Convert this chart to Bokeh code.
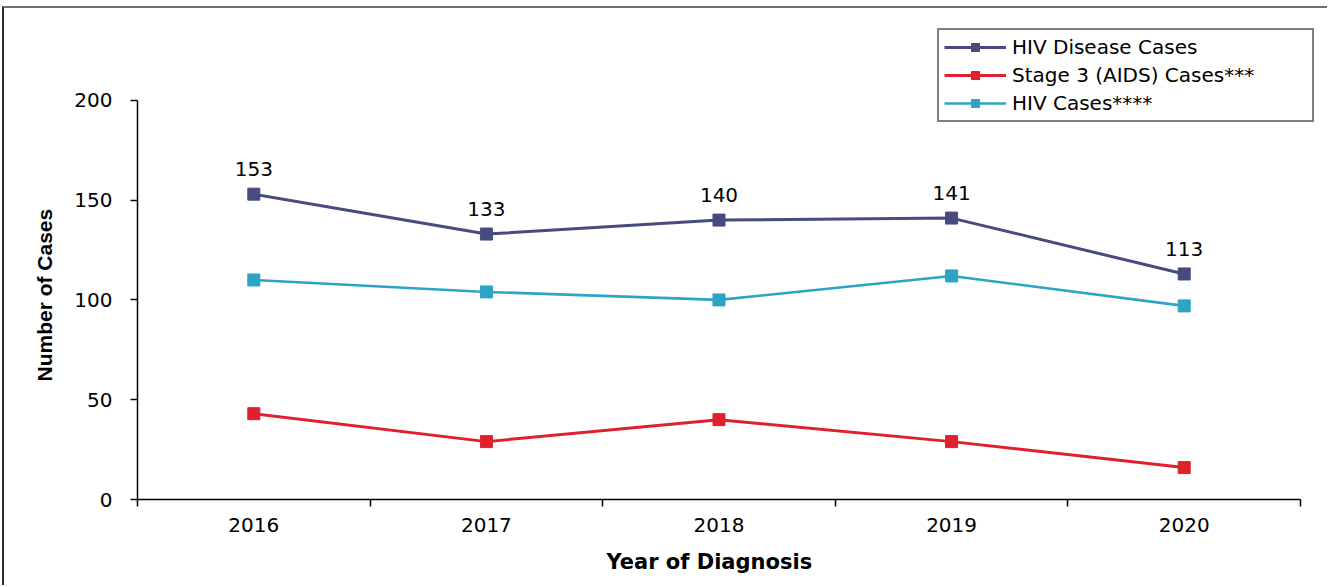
from bokeh.plotting import figure
from bokeh.models import Range1d, FixedTicker, Legend, LegendItem, Title
from bokeh.core.properties import value
from bokeh.embed import file_html
from bokeh.resources import INLINE

years = ["2016", "2017", "2018", "2019", "2020"]
hiv_disease = [153, 133, 140, 141, 113]
stage3 = [43, 29, 40, 29, 16]
hiv_cases = [110, 104, 100, 112, 97]
y_ticks = [0, 50, 100, 150, 200]

series_names = ["HIV Disease Cases", "Stage 3 (AIDS) Cases***", "HIV Cases****"]
series_colors = ["#474B80", "#E0202C", "#2CA4C3"]
x_title = "Year of Diagnosis"
y_title = "Number of Cases"

xpos = [i + 0.5 for i in range(len(years))]

p = figure(width=1325, height=579, output_backend="svg", toolbar_location=None,
           x_range=Range1d(0, 5.086), y_range=Range1d(0, 240),
           min_border_left=133, min_border_right=9, min_border_top=12, min_border_bottom=88)
p.styles = {"margin-top": "6px", "margin-left": "2px",
            "border-top": "2px solid #707070", "border-left": "2px solid #303030"}
p.outline_line_color = None
p.xgrid.visible = False
p.ygrid.visible = False
p.background_fill_color = "white"
p.border_fill_color = "white"

# x axis: labels at centers, ticks at category boundaries (minor ticks)
p.xaxis.ticker = FixedTicker(ticks=xpos, minor_ticks=list(range(len(years) + 1)))
p.xaxis.bounds = (0, len(years))
p.xaxis.major_label_overrides = {x: y for x, y in zip(xpos, years)}
p.xaxis.major_tick_out = 0
p.xaxis.major_tick_in = 0
p.xaxis.minor_tick_out = 7
p.xaxis.minor_tick_in = 0
p.xaxis.minor_tick_line_color = "black"
p.xaxis.minor_tick_line_width = 1.5
p.xaxis.axis_line_color = "black"
p.xaxis.axis_line_width = 1.5
p.xaxis.major_label_text_font = "DejaVu Sans"
p.xaxis.major_label_text_font_size = "20px"
p.xaxis.major_label_text_color = "black"
p.xaxis.major_label_standoff = 11

p.yaxis.ticker = FixedTicker(ticks=y_ticks)
p.yaxis.bounds = (0, 200)
p.yaxis.minor_tick_out = 0
p.yaxis.minor_tick_in = 0
p.yaxis.major_tick_out = 7
p.yaxis.major_tick_in = 0
p.yaxis.major_tick_line_color = "black"
p.yaxis.major_tick_line_width = 1.5
p.yaxis.axis_line_color = "black"
p.yaxis.axis_line_width = 1.5
p.yaxis.major_label_text_font = "DejaVu Sans"
p.yaxis.major_label_text_font_size = "20px"
p.yaxis.major_label_text_color = "black"
p.yaxis.major_label_standoff = 18

# axis titles placed as side-panel titles so they centre on the drawn axes
xt = Title(text=x_title, align="left", offset=469, standoff=27,
           text_font="DejaVu Sans", text_font_style="bold", text_font_size="21px",
           text_color="black")
p.add_layout(xt, "below")
yt = Title(text=y_title, align="left", offset=118, standoff=31,
           text_font="Liberation Sans", text_font_style="bold", text_font_size="21px",
           text_color="black")
p.add_layout(yt, "left")

items = []
for name, vals, col, lw in zip(series_names, [hiv_disease, stage3, hiv_cases], series_colors, [3, 3, 2.6]):
    ln = p.line(xpos, vals, line_color=col, line_width=lw)
    sc = p.scatter(xpos, vals, marker="square", size=12, fill_color=col, line_color=col)
    items.append(LegendItem(label=name, renderers=[ln, sc]))

p.text(xpos, hiv_disease, text=[str(v) for v in hiv_disease], y_offset=-25,
       text_align="center", text_baseline="alphabetic",
       text_font=value("DejaVu Sans"), text_font_size="20px", text_color="black")

legend = Legend(items=items, location=(800, 377))
legend.border_line_color = "black"
legend.border_line_width = 2
legend.background_fill_color = "white"
legend.background_fill_alpha = 1
legend.label_text_font = "DejaVu Sans"
legend.label_text_font_size = "20px"
legend.label_text_color = "black"
legend.glyph_width = 62
legend.glyph_height = 20
legend.label_standoff = 6
legend.label_width = 295
legend.padding = 5
legend.spacing = 4
legend.margin = 0
p.add_layout(legend, "center")

open("out.html", "w").write(file_html(p, INLINE))
